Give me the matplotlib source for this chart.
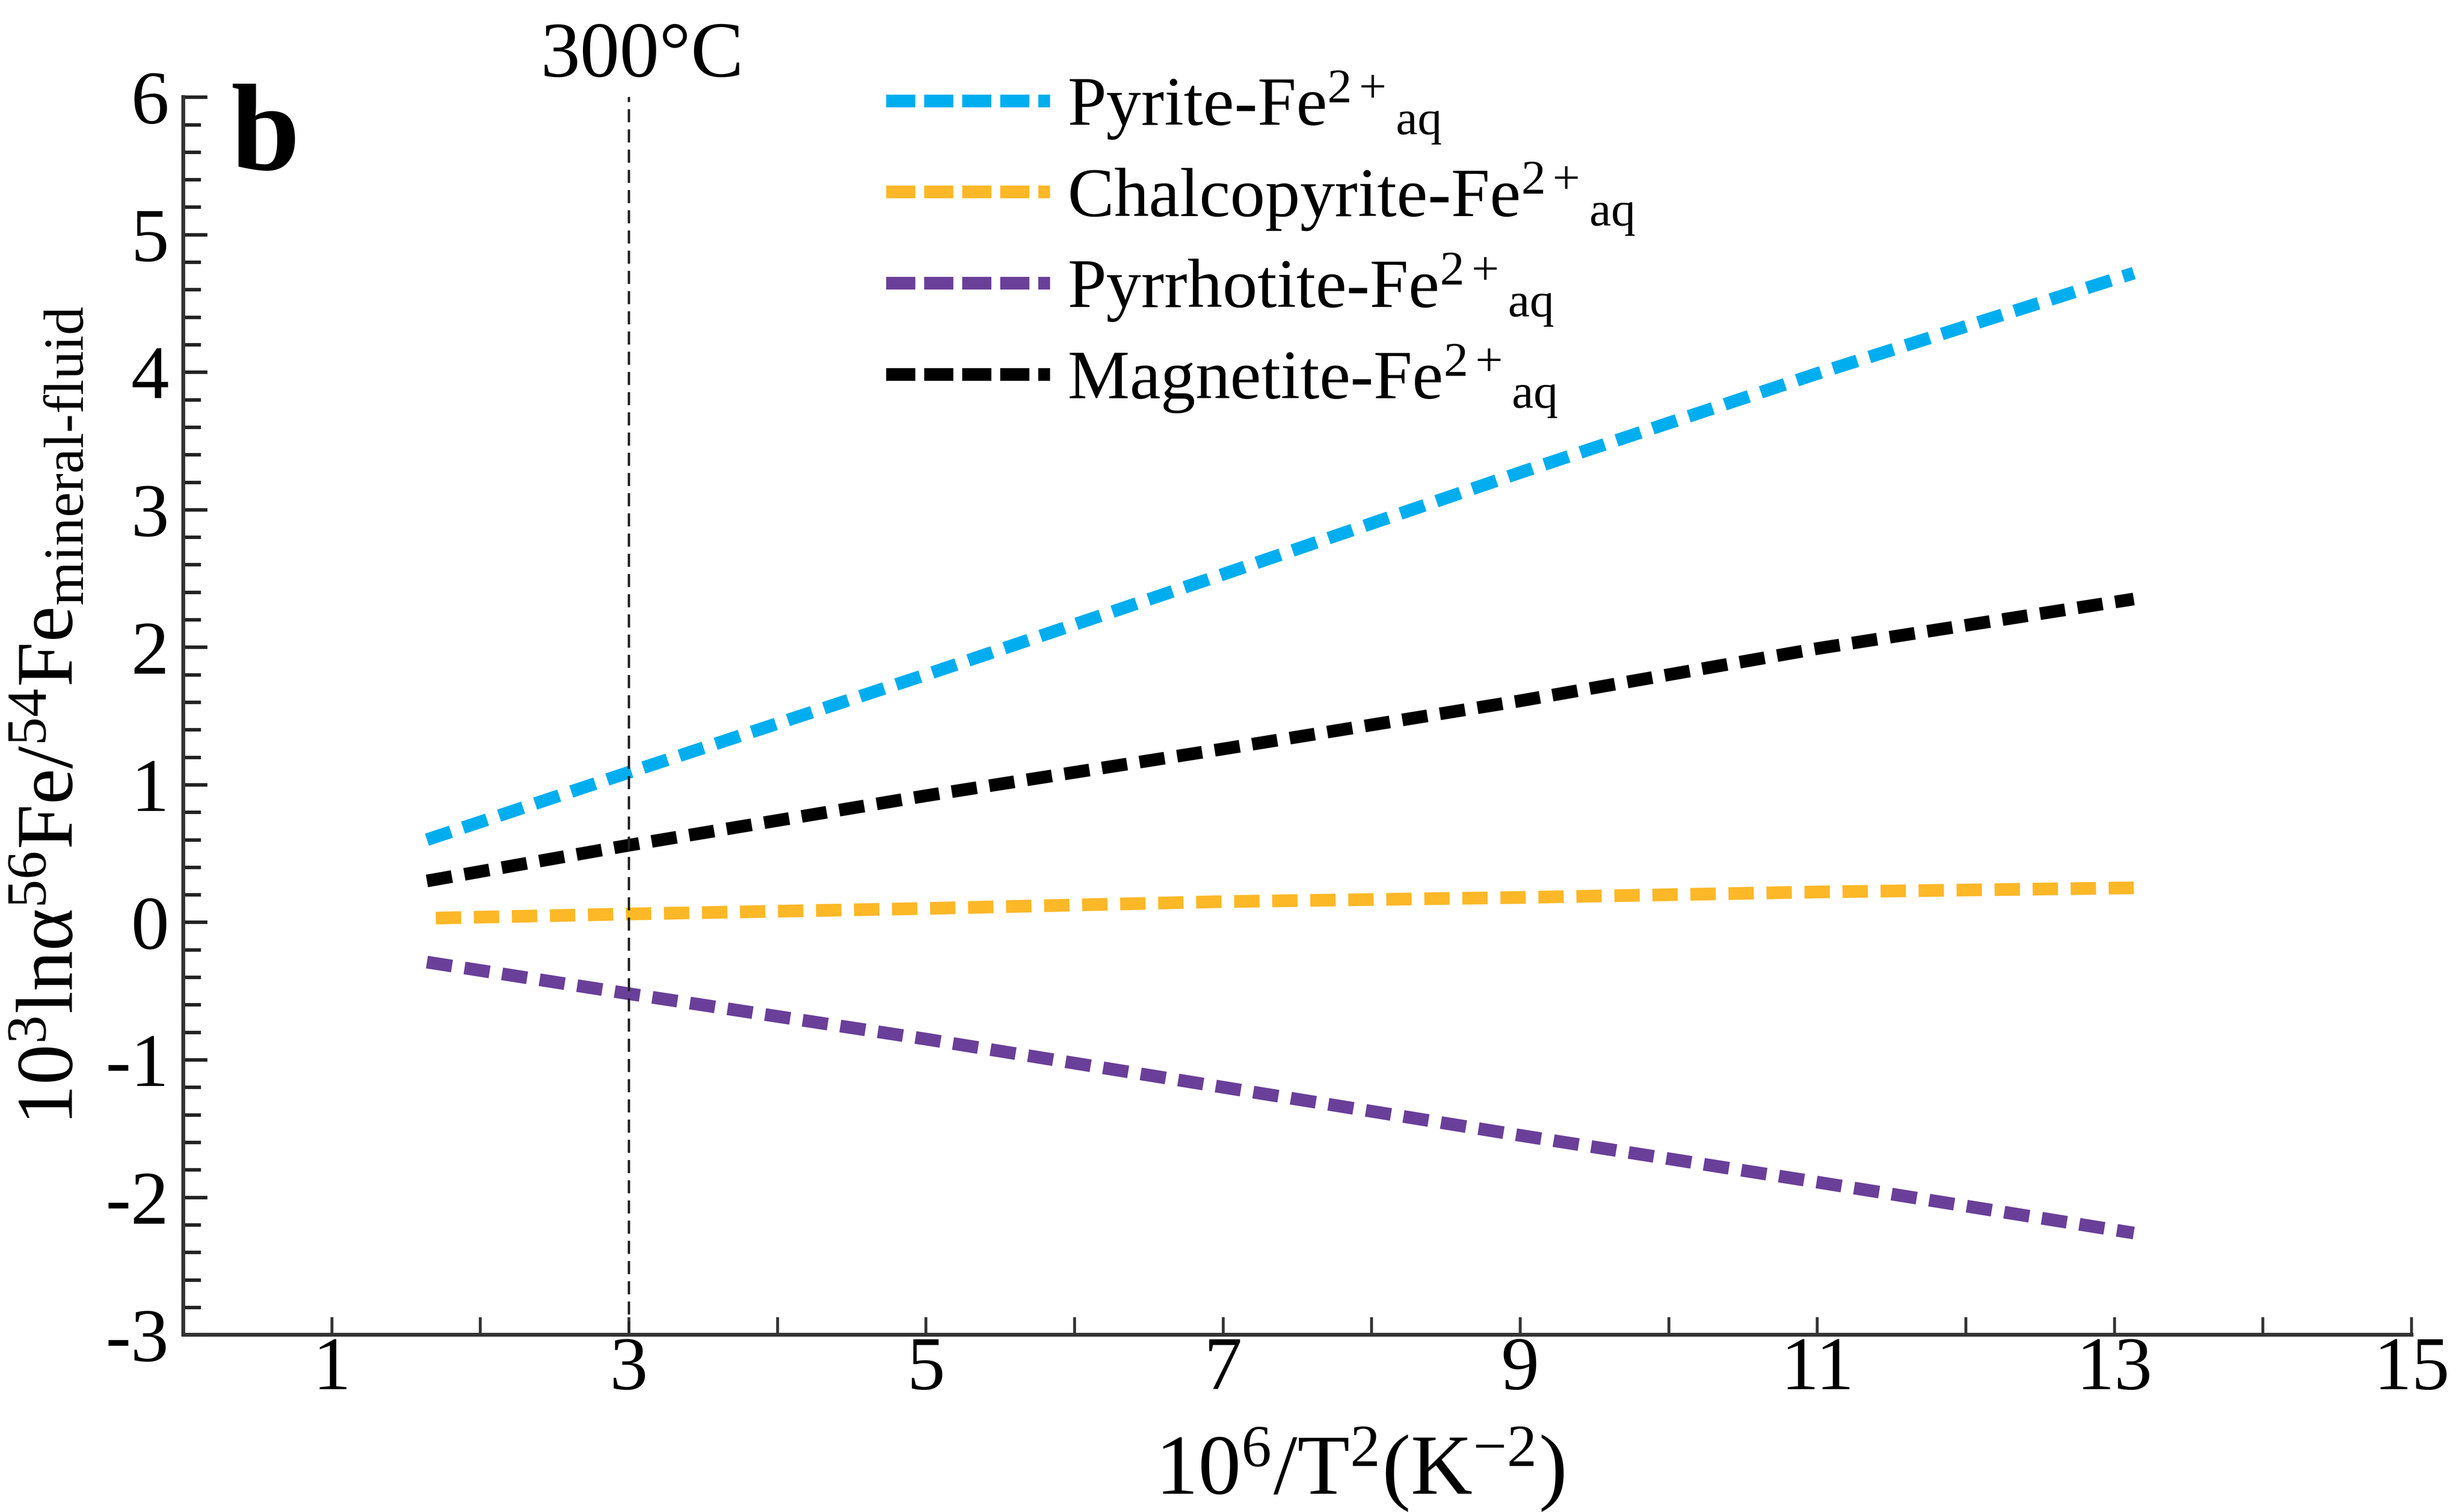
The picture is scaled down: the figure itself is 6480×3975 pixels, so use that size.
"""Fe isotope fractionation (mineral - Fe2+aq) vs 10^6/T^2, panel b.

Four sulfide/oxide - fluid pairs as thick dashed lines, with the 300 C
isotherm marked as a thin dashed vertical line.

One figure -> out.png
"""
from __future__ import annotations

import matplotlib

matplotlib.use("Agg")
import matplotlib.pyplot as plt  # noqa: E402
from matplotlib.lines import Line2D  # noqa: E402
from matplotlib.ticker import AutoMinorLocator  # noqa: E402

# --- data ---------------------------------------------------------------------
X = [1.64, 3, 5, 7, 9, 11, 13.13]
X_CHALCO = [1.70, 3, 5, 7, 9, 11, 13.13]
PYRITE = [0.60, 1.09, 1.80, 2.53, 3.27, 3.99, 4.72]
CHALCOPYRITE = [0.03, 0.06, 0.10, 0.15, 0.18, 0.22, 0.25]
PYRRHOTITE = [-0.29, -0.52, -0.85, -1.20, -1.55, -1.89, -2.26]
MAGNETITE = [0.30, 0.56, 0.92, 1.26, 1.61, 1.99, 2.35]

LABELS = [
    r"Pyrite-Fe$^{2+}{}_{\mathrm{aq}}$",
    r"Chalcopyrite-Fe$^{2+}{}_{\mathrm{aq}}$",
    r"Pyrrhotite-Fe$^{2+}{}_{\mathrm{aq}}$",
    r"Magnetite-Fe$^{2+}{}_{\mathrm{aq}}$",
]
COLORS = ["#00AEEF", "#FDB827", "#6A3F99", "#000000"]

ISOTHERM_X = 3
ISOTHERM_LABEL = "300°C"
X_TICKS = [1, 3, 5, 7, 9, 11, 13, 15]
X_MINOR = [2, 4, 6, 8, 10, 12, 14]
Y_TICKS = [-3, -2, -1, 0, 1, 2, 3, 4, 5, 6]

SERIF = "Liberation Serif"


def main() -> None:
    plt.rcParams.update({
        "font.family": [SERIF, "DejaVu Serif"],
        "mathtext.fontset": "custom",
        "mathtext.rm": SERIF,
        "mathtext.it": f"{SERIF}:italic",
        "mathtext.bf": f"{SERIF}:bold",
        "axes.unicode_minus": False,
    })

    fig = plt.figure(figsize=(21.6, 13.25), dpi=300)
    ax = fig.add_axes([0.0744, 0.1172, 0.9043, 0.8186])

    series = [(X, PYRITE), (X_CHALCO, CHALCOPYRITE), (X, PYRRHOTITE), (X, MAGNETITE)]
    for (xs, ys), color in zip(series, COLORS):
        ax.plot(xs, ys, color=color, lw=8, ls=(0, (2.0, 1.0)),
                solid_capstyle="butt", dash_capstyle="butt")

    ax.axvline(ISOTHERM_X, color="#222222", lw=1.5, ls=(0, (5.5, 3.0)))
    ax.text(3.09, 6.15, ISOTHERM_LABEL, ha="center", va="baseline",
            fontsize=50, clip_on=False)

    ax.set_xlim(0, 15)
    ax.set_ylim(-3, 6)
    ax.set_xticks(X_TICKS)
    ax.set_xticks(X_MINOR, minor=True)
    ax.set_yticks(Y_TICKS)
    ax.yaxis.set_minor_locator(AutoMinorLocator(5))

    for side in ("top", "right"):
        ax.spines[side].set_visible(False)
    for side in ("left", "bottom"):
        ax.spines[side].set_linewidth(2.4)
        ax.spines[side].set_color("#333333")

    ax.tick_params(axis="x", which="both", direction="in", length=11, width=1.8,
                   color="#333333", labelsize=48, pad=1)
    ax.tick_params(axis="y", which="major", direction="in", length=15, width=2.2,
                   color="#222222", labelsize=48, pad=9)
    ax.tick_params(axis="y", which="minor", direction="in", length=11, width=2.2,
                   color="#222222")

    ax.set_xlabel(r"10$^{6}$/T$^{2}$(K$^{-2}$)", fontsize=54, va="baseline")
    ax.xaxis.set_label_coords(0.528, -0.1285)
    ax.set_ylabel(r"10$^{3}$ln$\mathrm{\alpha}^{56}$Fe/$^{54}$Fe$_{\text{mineral-fluid}}$",
                  fontsize=51, va="baseline")
    ax.yaxis.set_label_coords(-0.0498, 0.5)

    # legend uses slightly longer dashes than the data lines
    handles = [Line2D([], [], color=c, lw=8, ls=(0, (2.3, 0.7)), dash_capstyle="butt")
               for c in COLORS]
    ax.legend(handles, LABELS, loc="upper left", bbox_to_anchor=(0.3154, 1.022),
              frameon=False, fontsize=44, handlelength=2.35, handletextpad=0.25,
              labelspacing=0.22, borderpad=0, borderaxespad=0)

    fig.text(608 / 6480, 1 - 445 / 3975, "b", fontsize=78, fontweight="bold",
             ha="left", va="baseline")

    fig.savefig("out.png", dpi=300)
    plt.close(fig)


if __name__ == "__main__":
    main()
